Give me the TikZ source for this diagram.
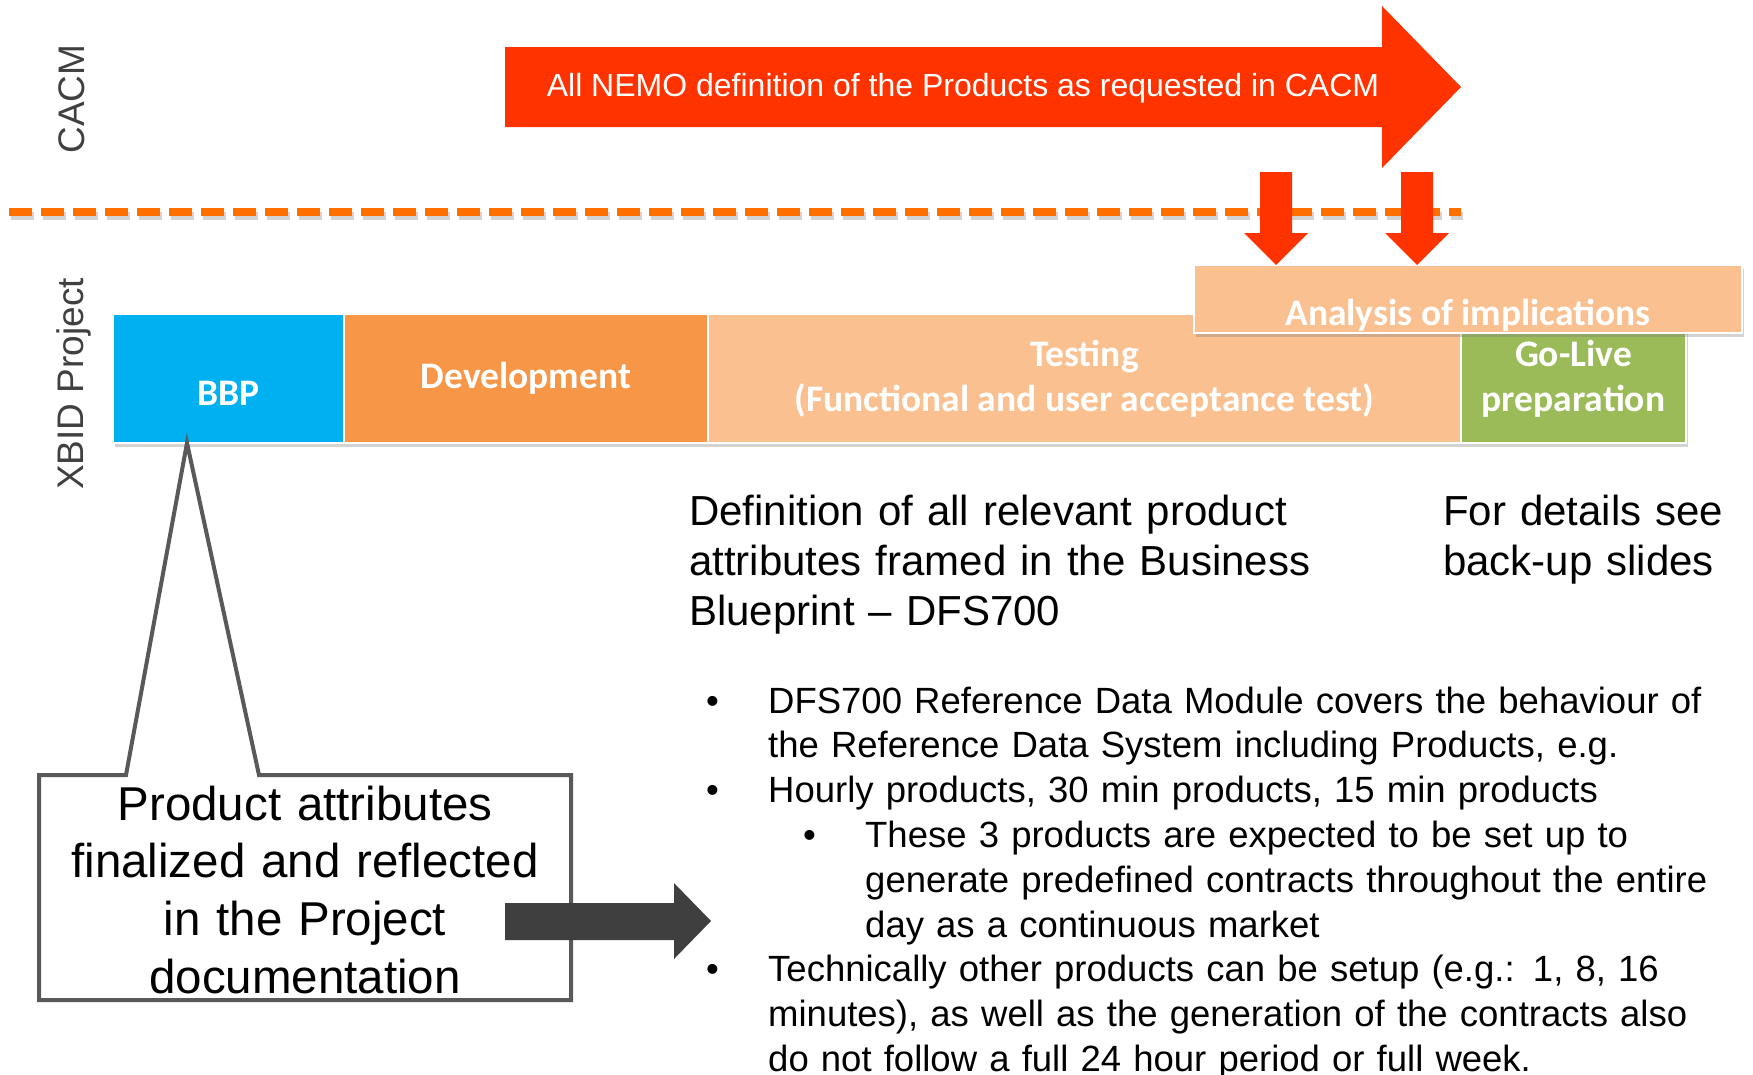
\documentclass[tikz,border=0pt]{standalone}
\usepackage{fontspec}
\setmainfont{Liberation Sans}
\newfontfamily\calib{Carlito}
\usetikzlibrary{positioning,shadows}

\definecolor{cacmred}{HTML}{FF3300}
\definecolor{dashorange}{HTML}{FF6F00}
\definecolor{bbpblue}{HTML}{00B0F0}
\definecolor{devorange}{HTML}{F79646}
\definecolor{testpeach}{HTML}{FAC090}
\definecolor{golivegreen}{HTML}{9BBB59}
\definecolor{labelgray}{HTML}{404040}
\definecolor{calloutgray}{HTML}{595959}
\definecolor{arrowdark}{HTML}{3F3F3F}

\newcommand\bulletline[2]{\leftskip=\dimexpr#1+62pt\relax\noindent\llap{\makebox[62pt][l]{\textbullet}}#2\par}

\begin{document}
\begin{tikzpicture}[x=1pt,y=-1pt]
            \tikzset{phase/.style={draw=white, line width=2pt, minimum height=129pt, inner sep=0pt, outer sep=0pt, text=white, align=center, font=\calib\bfseries\fontsize{37.5}{45}\selectfont, drop shadow={shadow xshift=2pt, shadow yshift=-4pt, opacity=.35}},
                     phasetext/.style={text=white, font=\calib\bfseries\fontsize{37.5}{45}\selectfont},
                     side/.style={rotate=90, anchor=base, inner sep=0pt, text=labelgray, font=\fontsize{37}{40}\selectfont},
                     body/.style={anchor=base west, inner sep=0pt, font=\fontsize{42}{50}\selectfont}}
            \useasboundingbox (0,0) rectangle (1753,1074);
            \node[side] (cacmlane) at (84,99) {CACM};
            \node[side] (xbidlane) at (83,384) {XBID Project};
            \draw[gray, opacity=.35, line width=8pt, dash pattern=on 23pt off 9pt] (11,216) -- (1463,216);
            \draw[dashorange, line width=8pt, dash pattern=on 23pt off 9pt] (9,212) -- (1461,212);
            \fill[cacmred] (505,47) -- (1382,47) -- (1382,6) -- (1461,87) -- (1382,168) -- (1382,127) -- (505,127) -- cycle;
            \node[text=white, font=\fontsize{32}{36}\selectfont] (cacm) at (963,88) {All NEMO definition of the Products as requested in CACM};
            \node[phase, fill=bbpblue, minimum width=231pt, anchor=north west] (bbp) at (113,314) {};
            \node[phasetext] at ([yshift=-15pt]bbp.center) {BBP};
            \node[phase, fill=devorange, minimum width=364pt, right=0pt of bbp] (dev) {Development};
            \node[phase, fill=testpeach, minimum width=753pt, right=0pt of dev] (test) {Testing\\(Functional and user acceptance test)};
            \node[phase, fill=golivegreen, minimum width=225pt, right=0pt of test] (golive) {Go-Live\\preparation};
            \node[phase, fill=testpeach, minimum width=548pt, minimum height=68pt, anchor=north west] (ana) at (1194,265) {};
            \node[phasetext] at ([yshift=-16pt]ana.center) {Analysis of implications};
            \foreach \x in {1276,1417}
                \fill[cacmred] (\x-16,172) -- (\x+16,172) -- (\x+16,233) -- (\x+32,233) -- (\x,265) -- (\x-32,233) -- (\x-16,233) -- cycle;
            \coordinate (tip) at ([xshift=74pt]bbp.south west);
            \draw[calloutgray, line width=4pt, fill=white] (39,775) -- (126,775) -- (tip) -- (259,775) -- (571,775) -- (571,1000) -- (39,1000) -- cycle;
            \node[anchor=base, inner sep=0pt, text width=540pt, align=center, font=\fontsize{47.5}{57.7}\selectfont] (note) at (305,820) {Product attributes\\finalized and reflected\\in the Project\\documentation};
            \fill[arrowdark] (505,903) -- (674,903) -- (674,883) -- (711,921) -- (674,959) -- (674,940) -- (505,940) -- cycle;
            \node[body, text width=640pt] (defn) at (689,525) {Definition of all relevant product\\attributes framed in the Business\\Blueprint – DFS700};
            \node[body, text width=300pt] (details) at (1443,525) {For details see\\back-up slides};
            \node[anchor=base west, inner sep=0pt, text width=1040pt, font=\fontsize{36.5}{44.8}\selectfont] (items) at (706,713) {%
                \bulletline{0pt}{DFS700 Reference Data Module covers the behaviour of\\the Reference Data System including Products, e.g.}%
                \bulletline{0pt}{Hourly products, 30 min products, 15 min products}%
                \bulletline{97pt}{These 3 products are expected to be set up to\\generate predefined contracts throughout the entire\\day as a continuous market}%
                \bulletline{0pt}{Technically other products can be setup (e.g.: 1, 8, 16\\minutes), as well as the generation of the contracts also\\do not follow a full 24 hour period or full week.}};
        \end{tikzpicture}
\end{document}
